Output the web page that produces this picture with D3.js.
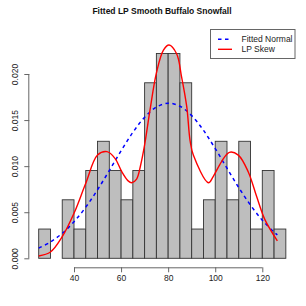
<!DOCTYPE html>
<html>
<head>
<meta charset="utf-8">
<script src="https://cdn.jsdelivr.net/npm/d3@7"></script>
<style>
html,body{margin:0;padding:0;background:#fff;}
svg{display:block;font-family:"Liberation Sans",Arial,Helvetica,sans-serif;}
</style>
</head>
<body>
<svg id="chart" width="306" height="306"></svg>
<script>
// Histogram bins (left edges) and counts, n = 63, bin width 5
const binStarts = [25,30,35,40,45,50,55,60,65,70,75,80,85,90,95,100,105,110,115,120,125];
const binCounts = [1,0,2,1,3,4,3,2,3,6,7,7,6,1,2,4,2,4,1,3,1];
const nObs = 63;
const binWidth = 5;

// Fitted normal curve
const normalX = [25,30,35,40,45,50,55,60,65,70,75,80,85,90,95,100,105,110,115,120,125,126.4];
const normalY = [0.00111,0.00177,0.00271,0.00397,0.00555,0.00744,0.00952,0.01166,0.01366,0.01531,0.01641,0.01683,0.0165,0.01548,0.01389,0.01191,0.00978,0.00767,0.00577,0.00414,0.00284,0.00254];

// LP skew curve
const lpX = [25,30,35,40,45,50,54,57.4,60.3,63,64.5,66.6,68.3,70,72.3,75,78,80.4,83.6,85.7,87.9,89.3,90.7,97.1,99.2,102.7,106,109.8,114,117.6,121.1,126.4];
const lpY = [0.00025,0.00068,0.00234,0.00488,0.00814,0.0112,0.01157,0.01085,0.0094,0.0084,0.0082,0.0086,0.0101,0.0123,0.0161,0.0201,0.0226,0.02315,0.0222,0.0197,0.01645,0.0128,0.0112,0.0082,0.0089,0.0105,0.0115,0.0112,0.0094,0.0067,0.0042,0.0019];

const xTicks = [40,60,80,100,120];
const yTicks = [0,0.005,0.010,0.015,0.020];
const yTickLabels = ["0.000","0.005","0.010","0.015","0.020"];
const legendLabels = ["Fitted Normal","LP Skew"];
const titleText = "Fitted LP Smooth Buffalo Snowfall";

const svg = d3.select("#chart");
const x = d3.scaleLinear().domain([40,120]).range([74,262.3]);
const y = d3.scaleLinear().domain([0,0.02]).range([258.3,74]);

// bars
svg.append("g").selectAll("rect")
  .data(binStarts.map((s,i)=>({s, d: binCounts[i]/(nObs*binWidth)})))
  .join("rect")
  .attr("x", d=>x(d.s))
  .attr("width", d=>x(d.s+binWidth)-x(d.s))
  .attr("y", d=>y(d.d))
  .attr("height", d=>y(0)-y(d.d))
  .attr("fill", "#bebebe")
  .attr("stroke", "#333")
  .attr("stroke-width", 0.9);

// normal curve
const normLine = d3.line().x(d=>x(d[0])).y(d=>y(d[1])).curve(d3.curveCatmullRom);
svg.append("path")
  .datum(normalX.map((v,i)=>[v,normalY[i]]))
  .attr("d", normLine)
  .attr("fill","none")
  .attr("stroke","#0000ff")
  .attr("stroke-width",1.5)
  .attr("stroke-dasharray","3.5,3.5");

// LP curve
svg.append("path")
  .datum(lpX.map((v,i)=>[v,lpY[i]]))
  .attr("d", normLine)
  .attr("fill","none")
  .attr("stroke","#ff0000")
  .attr("stroke-width",1.4);

// x axis
const xAxis = d3.axisBottom(x).tickValues(xTicks).tickSize(5).tickPadding(3).tickFormat(d3.format("d"));
const gx = svg.append("g").attr("transform","translate(0,267.3)").call(xAxis);
gx.select(".domain").attr("d", `M${x(40)},0.5H${x(120)}`).attr("stroke","#666");
gx.selectAll(".tick line").attr("stroke","#666");
gx.selectAll("text").attr("font-size",8.5).attr("fill","#222").attr("font-family","Liberation Sans, Arial, sans-serif");

// y axis
const yAxis = d3.axisLeft(y).tickValues(yTicks).tickSize(5).tickFormat((d,i)=>yTickLabels[i]);
const gy = svg.append("g").attr("transform","translate(29.3,0)").call(yAxis);
gy.select(".domain").attr("d", `M-0.5,${y(0)}V${y(0.02)}`).attr("stroke","#666");
gy.selectAll(".tick line").attr("stroke","#666");
gy.selectAll("text")
  .attr("font-size",8.5).attr("fill","#222").attr("font-family","Liberation Sans, Arial, sans-serif")
  .attr("x",null).attr("dy",null)
  .attr("text-anchor","middle")
  .attr("transform","translate(-11,0) rotate(-90)");

// title
svg.append("text").attr("x",162).attr("y",13.8).attr("text-anchor","middle")
  .attr("font-size",8.5).attr("font-weight","bold").attr("fill","#111").text(titleText);

// legend
const lg = svg.append("g");
lg.append("rect").attr("x",210.5).attr("y",29.5).attr("width",84.5).attr("height",29)
  .attr("fill","#fff").attr("stroke","#666").attr("stroke-width",1);
const legColors = ["#0000ff","#ff0000"];
const legDash = ["3.5,3.5",null];
legendLabels.forEach((lab,i)=>{
  const yy = 39.3 + i*10;
  lg.append("line").attr("x1",218).attr("x2",232).attr("y1",yy).attr("y2",yy)
    .attr("stroke",legColors[i]).attr("stroke-width",i===0?1.5:1.4)
    .attr("stroke-dasharray",legDash[i]);
  lg.append("text").attr("x",241.5).attr("y",yy+3).attr("font-size",8.5).attr("fill","#222").text(lab);
});
</script>
</body>
</html>
